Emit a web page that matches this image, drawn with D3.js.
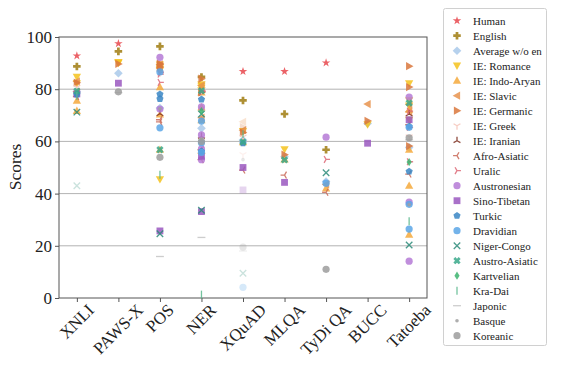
<!DOCTYPE html>
<html><head><meta charset="utf-8">
<script src="https://cdn.jsdelivr.net/npm/d3@7"></script>
<style>html,body{margin:0;padding:0;background:#fff;}svg{display:block;}</style>
</head><body><svg id="chart" width="575" height="368"></svg>
<script>
const categories = ["XNLI","PAWS-X","POS","NER","XQuAD","MLQA","TyDi QA","BUCC","Tatoeba"];
const yTicks = [0,20,40,60,80,100];
const seriesNames = ["Human","English","Average w/o en","IE: Romance","IE: Indo-Aryan","IE: Slavic","IE: Germanic","IE: Greek","IE: Iranian","Afro-Asiatic","Uralic","Austronesian","Sino-Tibetan","Turkic","Dravidian","Niger-Congo","Austro-Asiatic","Kartvelian","Kra-Dai","Japonic","Basque","Koreanic"];

// values per category (XNLI, PAWS-X, POS, NER, XQuAD, MLQA, TyDi QA, BUCC, Tatoeba)
const human        = [[92.8],[97.5],[],[],[86.8],[86.8],[90.1],[],[]];
const english      = [[88.7],[94.5],[96.4],[84.7],[75.7],[70.5],[56.8],[],[]];
const averageWoEn  = [[79.0],[86.1],[72.8],[65.0],[60.5],[54.1],[44.6],[66.9],[57.7]];
const romance      = [[84.7,82.2],[90.1,90.4],[88.3,87.2,89.4,87.6,45.5],[79.6,80.5,81.3,81.9],[63.9],[57.0],[],[66.5],[75.7,73.7,68.3,82.2]];
const indoAryan    = [[75.6,71.7],[],[56.8,80.8,70.3],[78.8,73.0,68.1,56.4],[59.7],[53.1],[42.0],[],[43.0,72.2,56.8,24.3]];
const slavic       = [[83.0,79.1],[],[88.1,89.5],[81.4,69.1],[64.3],[],[43.5],[74.3],[71.5,74.1]];
const germanic     = [[82.5],[89.7],[89.8,88.5,89.5],[78.9,78.8,84.0],[63.4],[54.9],[],[67.9],[58.2,88.8,80.8]];
const greek        = [[80.8],[],[86.3],[79.5],[61.7],[],[],[],[61.8]];
const iranian      = [[],[],[70.6],[61.9],[],[],[],[],[70.5]];
const afroAsiatic  = [[77.2],[],[67.5,68.3],[53.0,56.8],[49.0],[47.1],[40.5],[],[47.5,66.4]];
const uralic       = [[],[],[86.5,85.8,82.6],[79.1,79.2,79.4],[],[],[53.1],[],[52.2,71.6,65.4]];
const austronesian = [[],[],[72.4,92.2],[53.0,62.5,57.1,73.2],[],[],[61.6],[],[77.0,14.1,36.7]];
const sinoTibetan  = [[78.2],[82.3],[25.7],[54.3,33.1],[50.0],[44.3],[],[59.3],[68.3]];
const turkic       = [[78.0],[],[78.1,76.3],[56.2,76.1],[59.3],[],[],[],[48.5,65.7]];
const dravidian    = [[],[],[65.2,86.6],[67.8,59.5,55.8],[],[],[44.0],[],[65.4,26.4,35.9]];
const nigerCongo   = [[71.2],[],[24.6],[70.5,33.6],[],[],[48.0],[],[20.3]];
const austroAsiatic= [[79.3],[],[56.8],[79.4],[59.8],[52.9],[],[],[74.7]];
const kartvelian   = [[],[],[],[71.6],[],[],[],[],[52.1]];
const kraDai       = [[77.4],[],[47.2],[1.3],[62.8],[],[],[],[29.4]];
const japonic      = [[],[78.7],[15.9],[23.2],[],[],[],[],[60.6]];
const basque       = [[],[],[72.5],[60.9],[],[],[],[],[35.7]];
const koreanic     = [[],[79.0],[53.9],[60.0],[],[],[11.0],[],[61.4]];

// faint (semi-transparent) points seen in the figure: [series, category, value]
const fadedPoints = [
  ["Niger-Congo","XNLI",43.0],
  ["IE: Slavic","XQuAD",67.5],["IE: Germanic","XQuAD",65.5],
  ["IE: Greek","XQuAD",55.0],["Basque","XQuAD",53.0],
  ["Sino-Tibetan","XQuAD",41.4],["Koreanic","XQuAD",19.5],["Japonic","XQuAD",18.0],
  ["Niger-Congo","XQuAD",9.5],["Dravidian","XQuAD",4.1]
];

const seriesValues = [human,english,averageWoEn,romance,indoAryan,slavic,germanic,greek,iranian,afroAsiatic,uralic,austronesian,sinoTibetan,turkic,dravidian,nigerCongo,austroAsiatic,kartvelian,kraDai,japonic,basque,koreanic];

// styles
const styles = {
  "Human":["star","#e8474c"],
  "English":["plus","#a07c10"],
  "Average w/o en":["diamond","#a9c9ea"],
  "IE: Romance":["tdown","#f4c21c"],
  "IE: Indo-Aryan":["tup","#f4a93c"],
  "IE: Slavic":["tleft","#e8934e"],
  "IE: Germanic":["tright","#d9773c"],
  "IE: Greek":["tri1","#f6c4b8"],
  "IE: Iranian":["tri2","#7d2e1e"],
  "Afro-Asiatic":["tri3","#c96a58"],
  "Uralic":["tri4","#dd6a78"],
  "Austronesian":["circle","#b57ad6"],
  "Sino-Tibetan":["square","#9a58c0"],
  "Turkic":["pentagon","#3a86c4"],
  "Dravidian":["circle","#5aa6e6"],
  "Niger-Congo":["x","#2a8a78"],
  "Austro-Asiatic":["Xf","#38a889"],
  "Kartvelian":["thind","#3cb46e"],
  "Kra-Dai":["vline","#5cb88e"],
  "Japonic":["hline","#c4c4c4"],
  "Basque":["point","#a0a0a0"],
  "Koreanic":["circle","#9c9c9c"]
};

const svg = d3.select("#chart");
const W = 575, H = 368;
const plot = {left:59, right:427, top:37, bottom:298};
const serif = "'Liberation Serif','DejaVu Serif',serif";

const x = d3.scalePoint().domain(categories).range([plot.left, plot.right]).padding(0.43);
const y = d3.scaleLinear().domain([0,100]).range([plot.bottom, plot.top]);

function poly(pts){ return "M" + pts.map(p=>p[0].toFixed(2)+","+p[1].toFixed(2)).join("L") + "Z"; }
function markerPath(t, r){
  const s = Math.SQRT1_2;
  switch(t){
    case "star": return d3.symbol(d3.symbolStar, (r*1.25)*(r*1.25)/0.8908).call ? d3.symbol(d3.symbolStar, (r*1.25)*(r*1.25)/0.8908)() : "";
    case "plus": { const a=r*1.05, w=r*0.38; return poly([[-w,-a],[w,-a],[w,-w],[a,-w],[a,w],[w,w],[w,a],[-w,a],[-w,w],[-a,w],[-a,-w],[-w,-w]]); }
    case "Xf": { const a=r*1.05, w=r*0.38; const pts=[[-w,-a],[w,-a],[w,-w],[a,-w],[a,w],[w,w],[w,a],[-w,a],[-w,w],[-a,w],[-a,-w],[-w,-w]].map(p=>[(p[0]-p[1])*s,(p[0]+p[1])*s]); return poly(pts); }
    case "diamond": { const a=r*1.2; return poly([[0,-a],[a,0],[0,a],[-a,0]]); }
    case "thind": { const a=r*1.15; return poly([[0,-a],[a*0.62,0],[0,a],[-a*0.62,0]]); }
    case "tdown": { const a=r*1.15; return poly([[-a,-a*0.75],[a,-a*0.75],[0,a*1.05]]); }
    case "tup": { const a=r*1.15; return poly([[-a,a*0.75],[a,a*0.75],[0,-a*1.05]]); }
    case "tleft": { const a=r*1.15; return poly([[a*0.75,-a],[a*0.75,a],[-a*1.05,0]]); }
    case "tright": { const a=r*1.15; return poly([[-a*0.75,-a],[-a*0.75,a],[a*1.05,0]]); }
    case "square": { const a=r*0.95; return poly([[-a,-a],[a,-a],[a,a],[-a,a]]); }
    case "pentagon": { const a=r*1.05; const pts=d3.range(5).map(i=>{const ang=-Math.PI/2+i*2*Math.PI/5; return [a*Math.cos(ang), a*Math.sin(ang)];}); return poly(pts); }
    case "circle": { const a=r; return `M${a},0A${a},${a} 0 1,1 ${-a},0A${a},${a} 0 1,1 ${a},0Z`; }
    case "point": { const a=r*0.5; return `M${a},0A${a},${a} 0 1,1 ${-a},0A${a},${a} 0 1,1 ${a},0Z`; }
    case "tri1": { const a=r*1.1; return `M0,0L0,${a}M0,0L${-a*0.866},${-a*0.5}M0,0L${a*0.866},${-a*0.5}`; }
    case "tri2": { const a=r*1.1; return `M0,0L0,${-a}M0,0L${-a*0.866},${a*0.5}M0,0L${a*0.866},${a*0.5}`; }
    case "tri3": { const a=r*1.1; return `M0,0L${-a},0M0,0L${a*0.5},${-a*0.866}M0,0L${a*0.5},${a*0.866}`; }
    case "tri4": { const a=r*1.1; return `M0,0L${a},0M0,0L${-a*0.5},${-a*0.866}M0,0L${-a*0.5},${a*0.866}`; }
    case "x": { const a=r*0.9; return `M${-a},${-a}L${a},${a}M${-a},${a}L${a},${-a}`; }
    case "vline": { const a=r*1.1; return `M0,${-a}L0,${a}`; }
    case "hline": { const a=r*1.1; return `M${-a},0L${a},0`; }
  }
  return "";
}
const strokeTypes = new Set(["tri1","tri2","tri3","tri4","x","vline","hline"]);
function styleMarker(sel, type, color, opacity){
  if (strokeTypes.has(type)) {
    sel.attr("fill","none").attr("stroke",color).attr("stroke-width",1.3).attr("opacity",opacity);
  } else {
    sel.attr("fill",color).attr("stroke","none").attr("opacity",opacity);
  }
}

// grid lines
svg.append("g").selectAll("line").data(yTicks.filter(t=>t>0 && t<100)).join("line")
  .attr("x1",plot.left).attr("x2",plot.right)
  .attr("y1",d=>y(d)).attr("y2",d=>y(d))
  .attr("stroke","#b3b3b3").attr("stroke-width",1);

// frame
svg.append("rect").attr("x",plot.left).attr("y",plot.top)
  .attr("width",plot.right-plot.left).attr("height",plot.bottom-plot.top)
  .attr("fill","none").attr("stroke","#555").attr("stroke-width",1);

// y axis
const yAxis = svg.append("g").attr("transform",`translate(${plot.left},0)`)
  .call(d3.axisLeft(y).tickValues(yTicks).tickSize(4).tickPadding(3));
yAxis.select(".domain").remove();
yAxis.selectAll(".tick line").attr("stroke","#555");
yAxis.selectAll(".tick text").attr("font-family",serif).attr("font-size",17).attr("fill","#222");

// x axis
const xAxis = svg.append("g").attr("transform",`translate(0,${plot.bottom})`)
  .call(d3.axisBottom(x).tickSize(4).tickFormat(""));
xAxis.select(".domain").remove();
xAxis.selectAll(".tick line").attr("stroke","#555");

// x labels rotated 45, centred on tick
const xl = svg.append("g");
categories.forEach(c=>{
  const t = xl.append("text").text(c).attr("font-family",serif).attr("font-size",17).attr("fill","#222")
    .attr("text-anchor","middle").attr("dominant-baseline","central");
  const L = t.node().getComputedTextLength();
  const h = 12;
  const cy = 303 + (L + h)*Math.SQRT1_2/2;
  t.attr("x",x(c)).attr("y",cy).attr("transform",`rotate(-45,${x(c)},${cy})`);
});

// y label
svg.append("text").text("Scores").attr("font-family",serif).attr("font-size",17.5).attr("fill","#222")
  .attr("text-anchor","middle").attr("transform","translate(21,167) rotate(-90)");

// points
const pts = svg.append("g");
const R = 3.6;
seriesNames.forEach((name,i)=>{
  const [type,color] = styles[name];
  const data = [];
  seriesValues[i].forEach((vals,ci)=>vals.forEach(v=>data.push({c:categories[ci],v})));
  const sel = pts.append("g").selectAll("path").data(data).join("path")
    .attr("d",markerPath(type,R))
    .attr("transform",d=>`translate(${x(d.c)},${y(d.v)})`);
  styleMarker(sel,type,color,0.85);
});
fadedPoints.forEach(([name,c,v])=>{
  const [type,color] = styles[name];
  const p = pts.append("path").attr("d",markerPath(type,R)).attr("transform",`translate(${x(c)},${y(v)})`);
  styleMarker(p,type,color,0.25);
});

// legend
const lg = svg.append("g");
lg.append("rect").attr("x",443.5).attr("y",8.5).attr("width",103).attr("height",337).attr("rx",2)
  .attr("fill","#fff").attr("stroke","#d0d0d0").attr("stroke-width",1);
seriesNames.forEach((name,i)=>{
  const [type,color] = styles[name];
  const yy = 20.7 + i*15;
  const m = lg.append("path").attr("d",markerPath(type,R)).attr("transform",`translate(457,${yy})`);
  styleMarker(m,type,color,0.85);
  lg.append("text").text(name).attr("x",473).attr("y",yy).attr("dominant-baseline","central")
    .attr("font-family",serif).attr("font-size",11).attr("fill","#222");
});
</script></body></html>
